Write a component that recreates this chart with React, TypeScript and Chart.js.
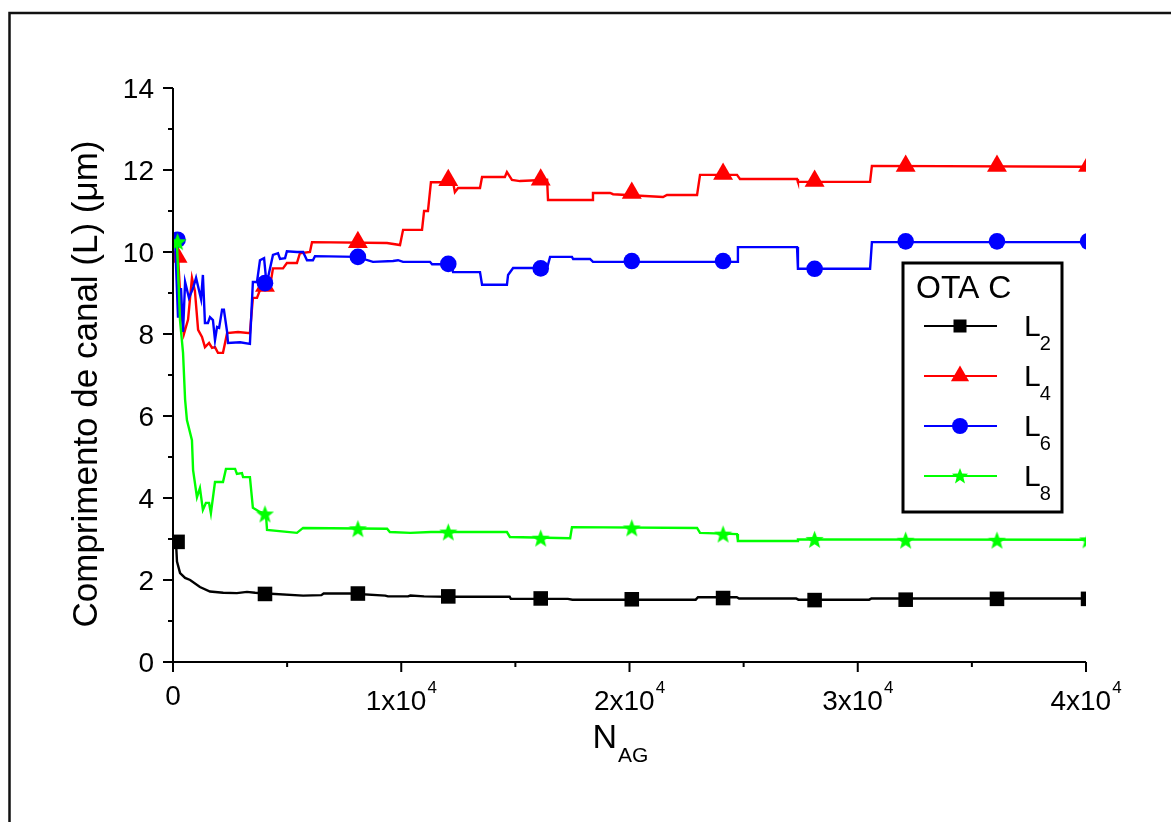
import React, { useEffect, useRef } from 'react';
import { Chart, registerables } from 'chart.js';

Chart.register(...registerables);

// ---------- axis definitions ----------
const X_MIN = 0;
const X_MAX = 40000;
const Y_MIN = 0;
const Y_MAX = 14;
const xMajorTicks = [0, 10000, 20000, 30000, 40000];
const xTickBase = ['0', '1x10', '2x10', '3x10', '4x10'];
const xTickExp = ['', '4', '4', '4', '4'];
const xMinorTicks = [5000, 15000, 25000, 35000];
const yMajorTicks = [0, 2, 4, 6, 8, 10, 12, 14];
const yTickLabels = ['0', '2', '4', '6', '8', '10', '12', '14'];
const yMinorTicks = [1, 3, 5, 7, 9, 11, 13];

const yTitle = 'Comprimento de canal (L) (μm)';
const xTitleMain = 'N';
const xTitleSub = 'AG';
const legendTitle = 'OTA C';
const seriesLetter = 'L';
const seriesSubs = ['2', '4', '6', '8'];
const seriesColors = ['#000000', '#ff0000', '#0000ff', '#00ff00'];

// ---------- marker positions (every 4000 generations) ----------
const markerX = [200, 4030, 8100, 12060, 16110, 20100, 24100, 28110, 32100, 36100, 40090];
const l2Markers = [2.93, 1.66, 1.67, 1.6, 1.55, 1.53, 1.56, 1.51, 1.52, 1.54, 1.54];
const l4Markers = [9.88, 9.17, 10.24, 11.75, 11.76, 11.44, 11.9, 11.73, 12.1, 12.1, 12.1];
const l6Markers = [10.3, 9.24, 9.88, 9.71, 9.6, 9.78, 9.78, 9.59, 10.26, 10.26, 10.26];
const l8Markers = [10.25, 3.61, 3.25, 3.17, 3.02, 3.27, 3.12, 2.99, 2.97, 2.97, 2.98];

// ---------- L2 ----------
const l2X = [130, 175, 310, 530, 750, 1180, 1620, 2200, 2800, 3240, 3600, 4100, 5700, 6500, 6600, 7750, 9300, 9420, 10300, 10400, 11000, 12000, 14750, 14800, 17300, 17500, 20000, 22900, 23000, 24700, 24800, 27300, 27400, 30500, 30600, 40000];
const l2Y = [2.93, 2.45, 2.17, 2.05, 2.0, 1.83, 1.72, 1.69, 1.68, 1.71, 1.69, 1.67, 1.62, 1.63, 1.67, 1.67, 1.62, 1.6, 1.6, 1.62, 1.6, 1.59, 1.59, 1.54, 1.54, 1.52, 1.52, 1.52, 1.58, 1.58, 1.55, 1.55, 1.52, 1.52, 1.55, 1.55];

// ---------- L4 ----------
const l4X = [90, 220, 350, 480, 660, 830, 960, 1100, 1270, 1400, 1580, 1710, 1840, 1970, 2190, 2370, 2850, 3370, 3500, 3680, 3810, 4030, 4250, 4380, 4820, 4990, 5430, 5560, 6000, 6090, 9375, 9945, 10080, 10910, 11000, 11170, 11300, 12270, 12350, 12490, 13450, 13540, 14540, 14630, 14850, 15200, 16390, 16430, 18360, 18400, 19150, 19280, 21470, 21640, 22960, 23090, 24710, 24840, 27340, 27380, 30540, 30620, 40000];
const l4Y = [10.35, 9.9, 8.6, 8.0, 8.35, 9.37, 9.05, 8.1, 7.93, 7.68, 7.78, 7.66, 7.68, 7.54, 7.54, 8.02, 8.05, 8.02, 8.88, 8.88, 9.07, 9.15, 9.15, 9.6, 9.6, 9.73, 9.73, 9.97, 10.0, 10.24, 10.22, 10.17, 10.54, 10.54, 11.0, 11.0, 11.7, 11.7, 11.46, 11.56, 11.56, 11.83, 11.83, 11.95, 11.76, 11.73, 11.76, 11.27, 11.27, 11.44, 11.44, 11.41, 11.34, 11.39, 11.39, 11.88, 11.88, 11.78, 11.78, 11.71, 11.71, 12.1, 12.08];

// ---------- L6 ----------
const l6X = [90, 220, 350, 440, 530, 700, 880, 1010, 1230, 1310, 1400, 1530, 1620, 1750, 1840, 1930, 2020, 2150, 2230, 2370, 2410, 2940, 3370, 3500, 3680, 3810, 3990, 4070, 4120, 4380, 4600, 4690, 4910, 4990, 5430, 5700, 5870, 6130, 6220, 8060, 8760, 9640, 9860, 10080, 11260, 11350, 12180, 12270, 13450, 13540, 14630, 14680, 14900, 16390, 16520, 17480, 17530, 18270, 18400, 24710, 24750, 27340, 27380, 30540, 30620, 40000];
const l6Y = [10.3, 8.4, 9.12, 8.05, 9.27, 8.88, 9.12, 9.37, 8.85, 9.44, 8.27, 8.27, 8.41, 8.34, 7.85, 8.17, 8.15, 8.59, 8.59, 8.05, 7.78, 7.8, 7.76, 9.27, 9.27, 9.8, 9.85, 9.39, 9.27, 9.93, 9.97, 9.83, 9.85, 10.02, 10.0, 10.0, 9.8, 9.8, 9.9, 9.88, 9.76, 9.78, 9.8, 9.76, 9.76, 9.7, 9.7, 9.51, 9.51, 9.2, 9.2, 9.44, 9.61, 9.61, 9.88, 9.88, 9.83, 9.83, 9.76, 9.76, 10.12, 10.12, 9.59, 9.59, 10.24, 10.24];

// ---------- L8 ----------
const l8X = [90, 175, 307, 440, 530, 610, 830, 880, 1050, 1180, 1310, 1440, 1580, 1660, 1840, 2190, 2320, 2720, 2800, 3020, 3070, 3370, 3500, 3810, 4070, 4120, 5430, 5700, 9380, 9500, 10400, 11300, 14630, 14760, 17400, 17480, 22960, 23090, 24710, 24750, 27340, 27380, 40000];
const l8Y = [10.3, 10.2, 8.34, 7.54, 6.4, 5.9, 5.41, 4.68, 4.02, 4.24, 3.71, 3.88, 3.88, 3.63, 4.39, 4.39, 4.71, 4.71, 4.59, 4.61, 4.51, 4.51, 3.76, 3.66, 3.61, 3.22, 3.15, 3.27, 3.25, 3.17, 3.15, 3.17, 3.17, 3.05, 3.02, 3.29, 3.27, 3.15, 3.12, 2.95, 2.95, 2.99, 2.98];

const FONT = '"Liberation Sans", Arial, Helvetica, sans-serif';

function pts(xs: number[], ys: number[]) {
  return xs.map((x, i) => ({ x, y: ys[i] }));
}

function starPath(ctx: CanvasRenderingContext2D, cx: number, cy: number, R: number, r: number) {
  ctx.beginPath();
  for (let i = 0; i < 10; i++) {
    const ang = -Math.PI / 2 + (i * Math.PI) / 5;
    const rad = i % 2 === 0 ? R : r;
    const px = cx + rad * Math.cos(ang);
    const py = cy + rad * Math.sin(ang);
    if (i === 0) ctx.moveTo(px, py);
    else ctx.lineTo(px, py);
  }
  ctx.closePath();
}

function makeStarCanvas(size: number, color: string) {
  const c = document.createElement('canvas');
  c.width = size;
  c.height = size;
  const g = c.getContext('2d')!;
  g.fillStyle = color;
  starPath(g, size / 2, size / 2 + 0.8, size / 2, (size / 2) * 0.42);
  g.fill();
  return c;
}

function drawMarker(ctx: CanvasRenderingContext2D, kind: number, x: number, y: number, color: string) {
  ctx.save();
  ctx.fillStyle = color;
  if (kind === 0) {
    ctx.fillRect(x - 6.5, y - 6.5, 13, 13);
  } else if (kind === 1) {
    const r = 10.5;
    ctx.beginPath();
    ctx.moveTo(x, y - r);
    ctx.lineTo(x + r * Math.sin((2 * Math.PI) / 3), y - r * Math.cos((2 * Math.PI) / 3));
    ctx.lineTo(x + r * Math.sin((4 * Math.PI) / 3), y - r * Math.cos((4 * Math.PI) / 3));
    ctx.closePath();
    ctx.fill();
  } else if (kind === 2) {
    ctx.beginPath();
    ctx.arc(x, y, 8, 0, Math.PI * 2);
    ctx.fill();
  } else {
    starPath(ctx, x, y + 0.5, 8.5, 3.6);
    ctx.fill();
  }
  ctx.restore();
}

const decorPlugin = {
  id: 'decor',
  afterDatasetsDraw(chart: any) {
    const ctx: CanvasRenderingContext2D = chart.ctx;
    const xs = chart.scales.x;
    const ys = chart.scales.y;
    const area = chart.chartArea;
    ctx.save();

    // outer frame
    ctx.strokeStyle = '#111';
    ctx.lineWidth = 2.5;
    ctx.beginPath();
    ctx.moveTo(9.5, 900);
    ctx.lineTo(9.5, 13);
    ctx.lineTo(1200, 13);
    ctx.stroke();

    // axis lines
    ctx.strokeStyle = '#000';
    ctx.lineWidth = 2;
    ctx.beginPath();
    ctx.moveTo(area.left, area.top);
    ctx.lineTo(area.left, area.bottom);
    ctx.lineTo(area.right, area.bottom);
    ctx.stroke();

    // ticks
    ctx.beginPath();
    xMajorTicks.forEach((v) => {
      const px = xs.getPixelForValue(v);
      ctx.moveTo(px, area.bottom);
      ctx.lineTo(px, area.bottom + 10);
    });
    xMinorTicks.forEach((v) => {
      const px = xs.getPixelForValue(v);
      ctx.moveTo(px, area.bottom);
      ctx.lineTo(px, area.bottom + 5);
    });
    yMajorTicks.forEach((v) => {
      const py = ys.getPixelForValue(v);
      ctx.moveTo(area.left, py);
      ctx.lineTo(area.left - 10, py);
    });
    yMinorTicks.forEach((v) => {
      const py = ys.getPixelForValue(v);
      ctx.moveTo(area.left, py);
      ctx.lineTo(area.left - 5, py);
    });
    ctx.stroke();

    // y tick labels
    ctx.fillStyle = '#000';
    ctx.font = `28px ${FONT}`;
    ctx.textAlign = 'right';
    ctx.textBaseline = 'alphabetic';
    yMajorTicks.forEach((v, i) => {
      const py = ys.getPixelForValue(v);
      ctx.fillText(yTickLabels[i], area.left - 19, py + 10);
    });

    // x tick labels with superscript
    xMajorTicks.forEach((v, i) => {
      const px = xs.getPixelForValue(v);
      const base = xTickBase[i];
      const exp = xTickExp[i];
      ctx.font = `28px ${FONT}`;
      const wb = ctx.measureText(base).width;
      ctx.font = `17px ${FONT}`;
      const we = exp ? ctx.measureText(exp).width + 1 : 0;
      const total = wb + we;
      const left = px - total / 2;
      ctx.textAlign = 'left';
      ctx.font = `28px ${FONT}`;
      ctx.fillText(base, left, exp ? area.bottom + 48 : area.bottom + 43);
      if (exp) {
        ctx.font = `17px ${FONT}`;
        ctx.fillText(exp, left + wb + 1, area.bottom + 31);
      }
    });

    // y axis title
    ctx.save();
    ctx.translate(97, 384);
    ctx.rotate(-Math.PI / 2);
    ctx.font = `35px ${FONT}`;
    ctx.textAlign = 'center';
    ctx.fillText(yTitle, 0, 0);
    ctx.restore();

    // x axis title
    ctx.font = `34px ${FONT}`;
    ctx.textAlign = 'left';
    const wn = ctx.measureText(xTitleMain).width;
    ctx.font = `21px ${FONT}`;
    const wsub = ctx.measureText(xTitleSub).width;
    const tx = 620 - (wn + wsub) / 2;
    ctx.font = `34px ${FONT}`;
    ctx.fillText(xTitleMain, tx, 748);
    ctx.font = `21px ${FONT}`;
    ctx.fillText(xTitleSub, tx + wn + 1, 762);

    // legend box
    ctx.fillStyle = '#fff';
    ctx.fillRect(903, 263, 159, 249);
    ctx.strokeStyle = '#000';
    ctx.lineWidth = 3;
    ctx.strokeRect(903, 263, 159, 249);
    ctx.fillStyle = '#000';
    ctx.font = `32px ${FONT}`;
    ctx.textAlign = 'left';
    ctx.fillText(legendTitle, 916, 298);
    seriesSubs.forEach((sub, i) => {
      const ly = 326 + i * 50;
      ctx.strokeStyle = seriesColors[i];
      ctx.lineWidth = 2;
      ctx.beginPath();
      ctx.moveTo(924, ly);
      ctx.lineTo(997, ly);
      ctx.stroke();
      drawMarker(ctx, i, 960, ly, seriesColors[i]);
      ctx.fillStyle = '#000';
      ctx.font = `30px ${FONT}`;
      ctx.fillText(seriesLetter, 1024, ly + 10);
      const wl = ctx.measureText(seriesLetter).width;
      ctx.font = `20px ${FONT}`;
      ctx.fillText(sub, 1024 + wl - 1, ly + 24);
    });

    ctx.restore();
  },
};

export default function App() {
  const ref = useRef<HTMLCanvasElement | null>(null);

  useEffect(() => {
    if (!ref.current) return;
    const star = makeStarCanvas(19, '#00ff00');
    const lineDs = (xs: number[], ys: number[], color: string, order: number) => ({
      data: pts(xs, ys),
      showLine: true,
      borderColor: color,
      backgroundColor: color,
      borderWidth: 2.4,
      pointRadius: 0,
      pointHoverRadius: 0,
      tension: 0,
      fill: false,
      order,
    });
    const markDs = (ys: number[], color: string, style: any, radius: number, order: number) => ({
      data: pts(markerX, ys),
      showLine: false,
      borderColor: color,
      backgroundColor: color,
      borderWidth: 0,
      pointStyle: style,
      pointRadius: radius,
      pointHoverRadius: radius,
      order,
    });
    const chart = new Chart(ref.current, {
      type: 'scatter',
      data: {
        datasets: [
          lineDs(l2X, l2Y, seriesColors[0], 8),
          markDs(l2Markers, seriesColors[0], 'rect', 10.3, 7),
          lineDs(l4X, l4Y, seriesColors[1], 6),
          markDs(l4Markers, seriesColors[1], 'triangle', 11.5, 5),
          lineDs(l6X, l6Y, seriesColors[2], 4),
          markDs(l6Markers, seriesColors[2], 'circle', 8.3, 3),
          lineDs(l8X, l8Y, seriesColors[3], 2),
          markDs(l8Markers, seriesColors[3], star, 10, 1),
        ] as any,
      },
      options: {
        animation: false,
        responsive: false,
        devicePixelRatio: 1,
        events: [],
        layout: { padding: { left: 0, top: 88, right: 85, bottom: 0 } },
        plugins: {
          legend: { display: false },
          tooltip: { enabled: false },
        },
        scales: {
          x: {
            type: 'linear',
            min: X_MIN,
            max: X_MAX,
            grid: { display: false },
            border: { display: false },
            ticks: { display: false },
            afterFit: (s: any) => {
              s.height = 160;
            },
          },
          y: {
            type: 'linear',
            min: Y_MIN,
            max: Y_MAX,
            grid: { display: false },
            border: { display: false },
            ticks: { display: false },
            afterFit: (s: any) => {
              s.width = 173;
            },
          },
        },
      } as any,
      plugins: [decorPlugin],
    });
    return () => chart.destroy();
  }, []);

  return (
    <div style={{ position: 'fixed', left: 0, top: 0, width: 1171, height: 822, background: '#fff' }}>
      <canvas ref={ref} width={1171} height={822} style={{ display: 'block' }} />
    </div>
  );
}
